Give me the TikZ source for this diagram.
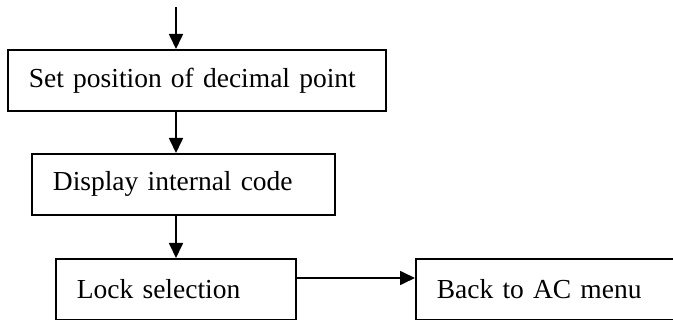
\documentclass[tikz,border=0pt]{standalone}
\usepackage{fontspec}
\setmainfont{Liberation Serif}
\usetikzlibrary{arrows.meta}

\tikzset{
	stage/.style={draw, line width=1.8pt, rectangle, anchor=north west, minimum height=61pt, inner xsep=21pt, inner ysep=0pt, align=left, font=\fontsize{27.5}{32}\selectfont},
	flow/.style={line width=1.7pt, -{Triangle[length=15pt,width=14pt]}}
}

\begin{document}
\begin{tikzpicture}[x=1pt,y=-1pt]
		%%%%% START %%%%%
		\useasboundingbox (0, 0) rectangle (673, 320);
		
		\node[stage, text width=336pt] (setpoint) at (7, 49) {Set position of decimal point};
		\node[stage, text width=261pt] (showcode) at (31, 153) {Display internal code};
		\node[stage, text width=198pt] (locksel) at (55, 258) {Lock selection};
		\node[stage, text width=240pt] (backmenu) at (415, 258) {Back to AC menu};
		
		\coordinate (entry) at (176, 7);
		\coordinate (side) at (0, 278);
		
		\draw[flow] (entry) -- (entry |- setpoint.north);
		\draw[flow] (setpoint.south -| entry) -- (showcode.north -| entry);
		\draw[flow] (showcode.south -| entry) -- (locksel.north -| entry);
		\draw[flow] (locksel.east |- side) -- (backmenu.west |- side);
		%%%%% END %%%%%
	\end{tikzpicture}
\end{document}
